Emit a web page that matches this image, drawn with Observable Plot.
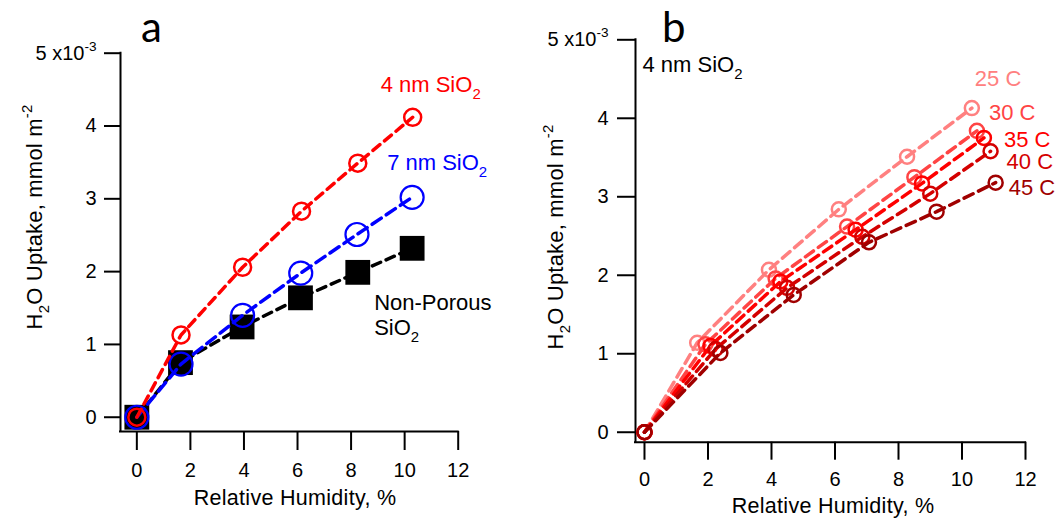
<!DOCTYPE html>
<html><head><meta charset="utf-8">
<script src="https://cdn.jsdelivr.net/npm/d3@7"></script>
<script src="https://cdn.jsdelivr.net/npm/@observablehq/plot@0.6"></script>
<style>
body{margin:0;background:#fff;}
#wrap{position:relative;width:1055px;height:519px;overflow:hidden;background:#fff;}
#wrap svg{position:absolute;top:0;}
</style></head><body><div id="wrap"></div>
<script>
// ---------- data (uptake in units of 1e-3 mmol m^-2, RH in %) ----------
const xTicks = [0, 2, 4, 6, 8, 10, 12];
const yTicks = [0, 1, 2, 3, 4, 5];

// Panel a
const rh_4nm = [0, 1.65, 3.95, 6.15, 8.25, 10.3];
const up_4nm = [0, 1.13, 2.06, 2.83, 3.49, 4.12];
const rh_7nm = [0, 1.65, 3.95, 6.12, 8.22, 10.28];
const up_7nm = [0, 0.73, 1.40, 1.98, 2.51, 3.02];
const rh_np  = [0, 1.63, 3.93, 6.11, 8.25, 10.28];
const up_np  = [0, 0.75, 1.24, 1.64, 1.99, 2.32];

// Panel b (4 nm SiO2 at several temperatures)
const tempNames = ["25 C", "30 C", "35 C", "40 C", "45 C"];
const tempColors = ["#ff8080", "#ff4444", "#ff0000", "#d40000", "#a00000"];
const rh_25 = [0, 1.66, 3.92, 6.12, 8.27, 10.31];
const up_25 = [0, 1.14, 2.07, 2.84, 3.51, 4.13];
const rh_30 = [0, 1.92, 4.13, 6.38, 8.50, 10.47];
const up_30 = [0, 1.12, 1.96, 2.62, 3.25, 3.84];
const rh_35 = [0, 2.08, 4.28, 6.65, 8.74, 10.69];
const up_35 = [0, 1.10, 1.92, 2.58, 3.17, 3.75];
const rh_40 = [0, 2.24, 4.49, 6.86, 9.00, 10.90];
const up_40 = [0, 1.06, 1.84, 2.49, 3.04, 3.58];
const rh_45 = [0, 2.39, 4.70, 7.07, 9.20, 11.06];
const up_45 = [0, 1.01, 1.75, 2.42, 2.81, 3.18];

// ---------- helpers ----------
const FONT = "'Liberation Sans', Arial, Helvetica, sans-serif";
const toRows = (rh, up) => rh.map((x, i) => ({rh: x, up: up[i]}));
const SVGNS = "http://www.w3.org/2000/svg";

function richify(el, parts, fs) {
  el.textContent = "";
  let shift = 0;
  for (const [t, kind] of parts) {
    const ts = document.createElementNS(SVGNS, "tspan");
    const target = kind === "sub" ? 0.3 * fs : kind === "sup" ? -0.45 * fs : 0;
    ts.setAttribute("dy", target - shift);
    shift = target;
    if (kind) ts.setAttribute("font-size", 0.68 * fs);
    ts.textContent = t;
    el.appendChild(ts);
  }
}
function fixSubscripts(svg, fs) {
  d3.select(svg).selectAll("text").each(function () {
    const s = this.textContent;
    if (s.endsWith("SiO2") && !this.querySelector("tspan")) {
      richify(this, [[s.slice(0, -1), ""], ["2", "sub"]], fs);
    }
  });
}
function fixTopTick(svg, fs) {
  d3.select(svg).selectAll('g[aria-label="y-axis tick label"] text')
    .filter(function () { return this.textContent === "5"; })
    .each(function () { richify(this, [["5 x10", ""], ["-3", "sup"]], fs); });
}
function addText(svg, {x, y, rotate = 0, anchor = "middle", fs, fill = "black", family = FONT, ls = 0, parts}) {
  const t = d3.select(svg).append("text")
    .attr("transform", `translate(${x},${y}) rotate(${rotate})`)
    .attr("text-anchor", anchor)
    .attr("font-family", family)
    .attr("font-size", fs)
    .attr("letter-spacing", ls)
    .attr("fill", fill);
  richify(t.node(), parts, fs);
}

const wrap = document.getElementById("wrap");
const TICK_FS = 20, LABEL_FS = 22;
const styleBase = {fontFamily: FONT, fontSize: TICK_FS + "px", color: "black", background: "transparent", overflow: "visible"};
const fmt = (d) => String(d);

// ---------- panel a ----------
const xA = [-0.61, 12], yA = [-0.196, 5];
const dNP = toRows(rh_np, up_np), d7 = toRows(rh_7nm, up_7nm), d4 = toRows(rh_4nm, up_4nm);
const last = (d) => [d[d.length - 1]];
const plotA = Plot.plot({
  width: 527, height: 519,
  marginLeft: 120, marginRight: 69.3, marginTop: 52.7, marginBottom: 88,
  x: {domain: xA}, y: {domain: yA},
  style: styleBase,
  marks: [
    Plot.ruleX([xA[0]], {stroke: "black", strokeWidth: 2, strokeLinecap: "square"}),
    Plot.ruleY([yA[0]], {stroke: "black", strokeWidth: 2, strokeLinecap: "square"}),
    Plot.axisY(yTicks, {tickSize: 16, tickPadding: 8, fontSize: TICK_FS, strokeWidth: 2, label: null, tickFormat: fmt}),
    Plot.axisX(xTicks, {tickSize: 19, tickPadding: 12, fontSize: TICK_FS, strokeWidth: 2, label: null, tickFormat: fmt}),
    Plot.line(dNP, {x: "rh", y: "up", stroke: "black", strokeWidth: 3.5, strokeDasharray: "9,6"}),
    Plot.dot(dNP, {x: "rh", y: "up", symbol: "square", r: 14, fill: "black"}),
    Plot.line(d7, {x: "rh", y: "up", stroke: "#0000ff", strokeWidth: 3.5, strokeDasharray: "11,6"}),
    Plot.dot(d7, {x: "rh", y: "up", r: 11.5, stroke: "#0000ff", strokeWidth: 2.2, fill: "none"}),
    Plot.line(d4, {x: "rh", y: "up", stroke: "#ff0000", strokeWidth: 3.5, strokeDasharray: "9,6"}),
    Plot.dot(d4, {x: "rh", y: "up", r: 8.5, stroke: "#ff0000", strokeWidth: 2.5, fill: "none"}),
    Plot.text(last(d4), {x: "rh", y: "up", text: () => "4 nm SiO2", dx: -32, dy: -25, textAnchor: "start", lineAnchor: "bottom", fill: "#ff0000", fontSize: LABEL_FS}),
    Plot.text(last(d7), {x: "rh", y: "up", text: () => "7 nm SiO2", dx: -25, dy: -27, textAnchor: "start", lineAnchor: "bottom", fill: "#0000ff", fontSize: LABEL_FS}),
    Plot.text(last(dNP), {x: "rh", y: "up", text: () => "Non-Porous", dx: -38, dy: 62, textAnchor: "start", lineAnchor: "bottom", fill: "black", fontSize: LABEL_FS}),
    Plot.text(last(dNP), {x: "rh", y: "up", text: () => "SiO2", dx: -38, dy: 87, textAnchor: "start", lineAnchor: "bottom", fill: "black", fontSize: LABEL_FS})
  ]
});
plotA.style.left = "0px";
wrap.appendChild(plotA);
fixSubscripts(plotA, LABEL_FS);
fixTopTick(plotA, TICK_FS);
addText(plotA, {x: 295, y: 505, fs: 21.5, ls: 0.3, parts: [["Relative Humidity, %", ""]]});
addText(plotA, {x: 42, y: 217, rotate: -90, fs: 22, ls: 0.2, parts: [["H", ""], ["2", "sub"], ["O Uptake, mmol m", ""], ["-2", "sup"]]});
addText(plotA, {x: 141, y: 41.5, anchor: "start", fs: 42, family: "Lato, 'Open Sans', sans-serif", parts: [["a", ""]]});

// ---------- panel b ----------
const xB = [-0.283, 12], yB = [-0.127, 5];
const tempData = [toRows(rh_25, up_25), toRows(rh_30, up_30), toRows(rh_35, up_35), toRows(rh_40, up_40), toRows(rh_45, up_45)];
const tempLabelOffsets = [[3, -22], [12, -11], [20, 9], [16, 18], [13, 12]];
const marksB = [
  Plot.ruleX([xB[0]], {stroke: "black", strokeWidth: 2, strokeLinecap: "square"}),
  Plot.ruleY([yB[0]], {stroke: "black", strokeWidth: 2, strokeLinecap: "square"}),
  Plot.axisY(yTicks, {tickSize: 18, tickPadding: 9, fontSize: TICK_FS, strokeWidth: 2, label: null, tickFormat: fmt}),
  Plot.axisX(xTicks, {tickSize: 18, tickPadding: 12, fontSize: TICK_FS, strokeWidth: 2, label: null, tickFormat: fmt}),
  Plot.text(["4 nm SiO2"], {frameAnchor: "top-left", dx: 7, dy: 32.5, textAnchor: "start", lineAnchor: "bottom", fill: "black", fontSize: LABEL_FS})
];
tempData.forEach((d, i) => {
  marksB.push(Plot.line(d, {x: "rh", y: "up", stroke: tempColors[i], strokeWidth: 3.5, strokeDasharray: "10,6"}));
  marksB.push(Plot.dot(d, {x: "rh", y: "up", r: 7, stroke: tempColors[i], strokeWidth: 2.5, fill: "none"}));
});
tempData.forEach((d, i) => {
  marksB.push(Plot.text(last(d), {x: "rh", y: "up", text: () => tempNames[i], dx: tempLabelOffsets[i][0], dy: tempLabelOffsets[i][1], textAnchor: "start", lineAnchor: "bottom", fill: tempColors[i], fontSize: LABEL_FS}));
});
const plotB = Plot.plot({
  width: 528, height: 519,
  marginLeft: 108, marginRight: 30, marginTop: 39.3, marginBottom: 77.3,
  x: {domain: xB}, y: {domain: yB},
  style: styleBase,
  marks: marksB
});
plotB.style.left = "527px";
wrap.appendChild(plotB);
fixSubscripts(plotB, LABEL_FS);
fixTopTick(plotB, TICK_FS);
addText(plotB, {x: 306, y: 513, fs: 21.5, ls: 0.3, parts: [["Relative Humidity, %", ""]]});
addText(plotB, {x: 36, y: 237, rotate: -90, fs: 22, ls: 0.2, parts: [["H", ""], ["2", "sub"], ["O Uptake, mmol m", ""], ["-2", "sup"]]});
addText(plotB, {x: 135, y: 41.5, anchor: "start", fs: 42, family: "Lato, 'Open Sans', sans-serif", parts: [["b", ""]]});
</script>
</body></html>
